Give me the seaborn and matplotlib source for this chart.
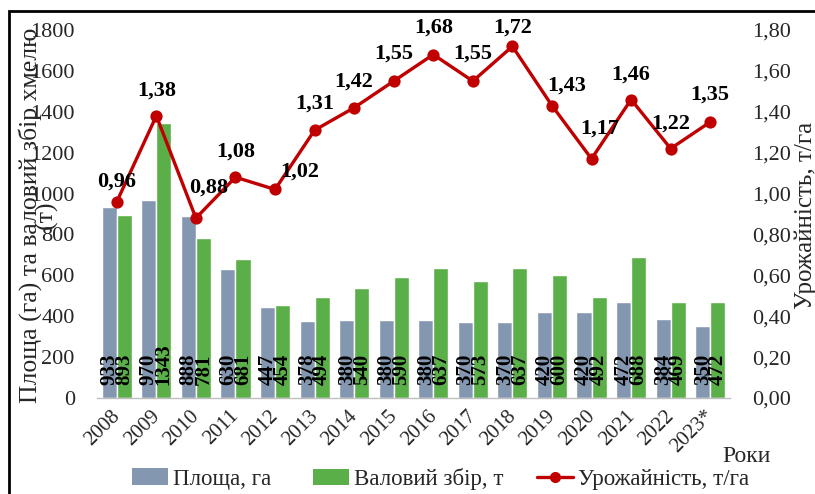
import numpy as np
import pandas as pd
import matplotlib
matplotlib.use("Agg")
import matplotlib.pyplot as plt
import matplotlib.transforms as mtransforms
import seaborn as sns
from matplotlib.patches import Rectangle, Patch
from matplotlib.lines import Line2D

years = ["2008", "2009", "2010", "2011", "2012", "2013", "2014", "2015",
         "2016", "2017", "2018", "2019", "2020", "2021", "2022", "2023*"]
area = [933, 970, 888, 630, 447, 378, 380, 380, 380, 370, 370, 420, 420, 472, 384, 350]
harvest = [893, 1343, 781, 681, 454, 494, 540, 590, 637, 573, 637, 600, 492, 688, 469, 472]
yield_t = [0.96, 1.38, 0.88, 1.08, 1.02, 1.31, 1.42, 1.55, 1.68, 1.55, 1.72, 1.43,
           1.17, 1.46, 1.22, 1.35]

s_area = "Площа, га"
s_harv = "Валовий збір, т"
s_yield = "Урожайність, т/га"
y_left_label = "Площа (га) та валовий збір хмелю\n(т)"
x_label = "Роки"

# label offsets (pixels) for yield annotations
lab_off = [(0, 20), (0, 25), (13, 30), (0, 26), (25, 18), (0, 27), (0, 26), (0, 28),
           (0, 27), (0, 28), (0, 19), (15, 20), (8, 30), (0, 25), (0, 25), (0, 27)]

sns.set_theme(style="white")
plt.rcParams["font.family"] = ["Liberation Serif", "DejaVu Serif"]

c_area = "#8497B0"
c_harv = "#5BAF48"
c_red = "#C00000"

df = pd.DataFrame({
    "year": years * 2,
    "value": area + harvest,
    "series": [s_area] * len(years) + [s_harv] * len(years),
})
dfy = pd.DataFrame({"year": years, "yield": yield_t})

W, H = 815, 494
fig = plt.figure(figsize=(W / 100, H / 100), dpi=100)
ax = fig.add_axes([97 / W, 96 / H, 633 / W, 368 / H])

sns.barplot(data=df, x="year", y="value", hue="series", ax=ax,
            palette=[c_area, c_harv], width=0.76, gap=0, saturation=1,
            legend=False, errorbar=None)
ax.set_ylim(0, 1800)
ax.set_xlim(-0.5, len(years) - 0.5)
ax.set_yticks(np.arange(0, 1801, 200))
ax.set_yticklabels([str(v) for v in range(0, 1801, 200)])
for s in ["top", "right", "left"]:
    ax.spines[s].set_visible(False)
ax.spines["bottom"].set_color("#BFBFBF")
ax.spines["bottom"].set_linewidth(1)
ax.tick_params(axis="y", length=0, pad=16, labelsize=16)
ax.tick_params(axis="x", length=0, pad=6, labelsize=15)
shift = mtransforms.ScaledTranslation(-6 / 100, 0, fig.dpi_scale_trans)
for lab in ax.get_xticklabels():
    lab.set_rotation(45)
    lab.set_ha("right")
    lab.set_rotation_mode("anchor")
    lab.set_transform(lab.get_transform() + shift)
ax.set_xlabel("")
ax.set_ylabel("")

fig.text(38 / W, 1 - 215 / H, y_left_label, rotation=90, ha="center", va="center",
         fontsize=18.5, linespacing=0.6, multialignment="center")

for cont in ax.containers:
    for p in cont:
        h = p.get_height()
        ax.text(p.get_x() + p.get_width() / 2, 62, f"{int(round(h))}",
                rotation=90, ha="center", va="bottom", fontsize=15,
                fontweight="bold", color="black")

ax2 = ax.twinx()
sns.pointplot(data=dfy, x="year", y="yield", ax=ax2, color=c_red,
              markers="o", markersize=7, linewidth=2.4, errorbar=None)
ax2.set_ylim(0, 1.8)
ax2.set_xlim(-0.5, len(years) - 0.5)
ax2.set_yticks(np.arange(0, 1.81, 0.2))
ax2.set_yticklabels([f"{v:.2f}".replace(".", ",") for v in np.arange(0, 1.81, 0.2)])
for s in ["top", "right", "left", "bottom"]:
    ax2.spines[s].set_visible(False)
ax2.tick_params(axis="y", length=0, pad=16, labelsize=16)
ax2.set_xlabel("")
ax2.set_ylabel("")
fig.text(806 / W, 1 - 215 / H, s_yield, rotation=90, ha="center", va="center",
         fontsize=18)

for i, (v, off) in enumerate(zip(yield_t, lab_off)):
    ax2.annotate(f"{v:.2f}".replace(".", ","), (i, v), xytext=off,
                 textcoords="offset pixels", ha="center", va="center",
                 fontsize=16, fontweight="bold", color="black",
                 annotation_clip=False)

fig.text(722 / W, 1 - 456 / H, x_label, fontsize=17, ha="left", va="center")

items = [
    (Patch(facecolor=c_area, edgecolor="none"), s_area, 132),
    (Patch(facecolor=c_harv, edgecolor="none"), s_harv, 313),
    (Line2D([0], [0], color=c_red, lw=2.4, marker="o", markersize=7), s_yield, 537),
]
for hnd, txt, x0 in items:
    fig.legend([hnd], [txt], loc="center left",
               bbox_to_anchor=(x0 / W, 1 - 479 / H), frameon=False,
               fontsize=16.5, handlelength=1.55, handleheight=0.75,
               handletextpad=0.25, borderaxespad=0, borderpad=0)

fig.patches.append(Rectangle((9 / W, -0.05), 1.2, (H - 11) / H + 0.05,
                             transform=fig.transFigure, fill=False,
                             edgecolor="black", linewidth=2, zorder=10))

fig.savefig("out.png", dpi=100)
